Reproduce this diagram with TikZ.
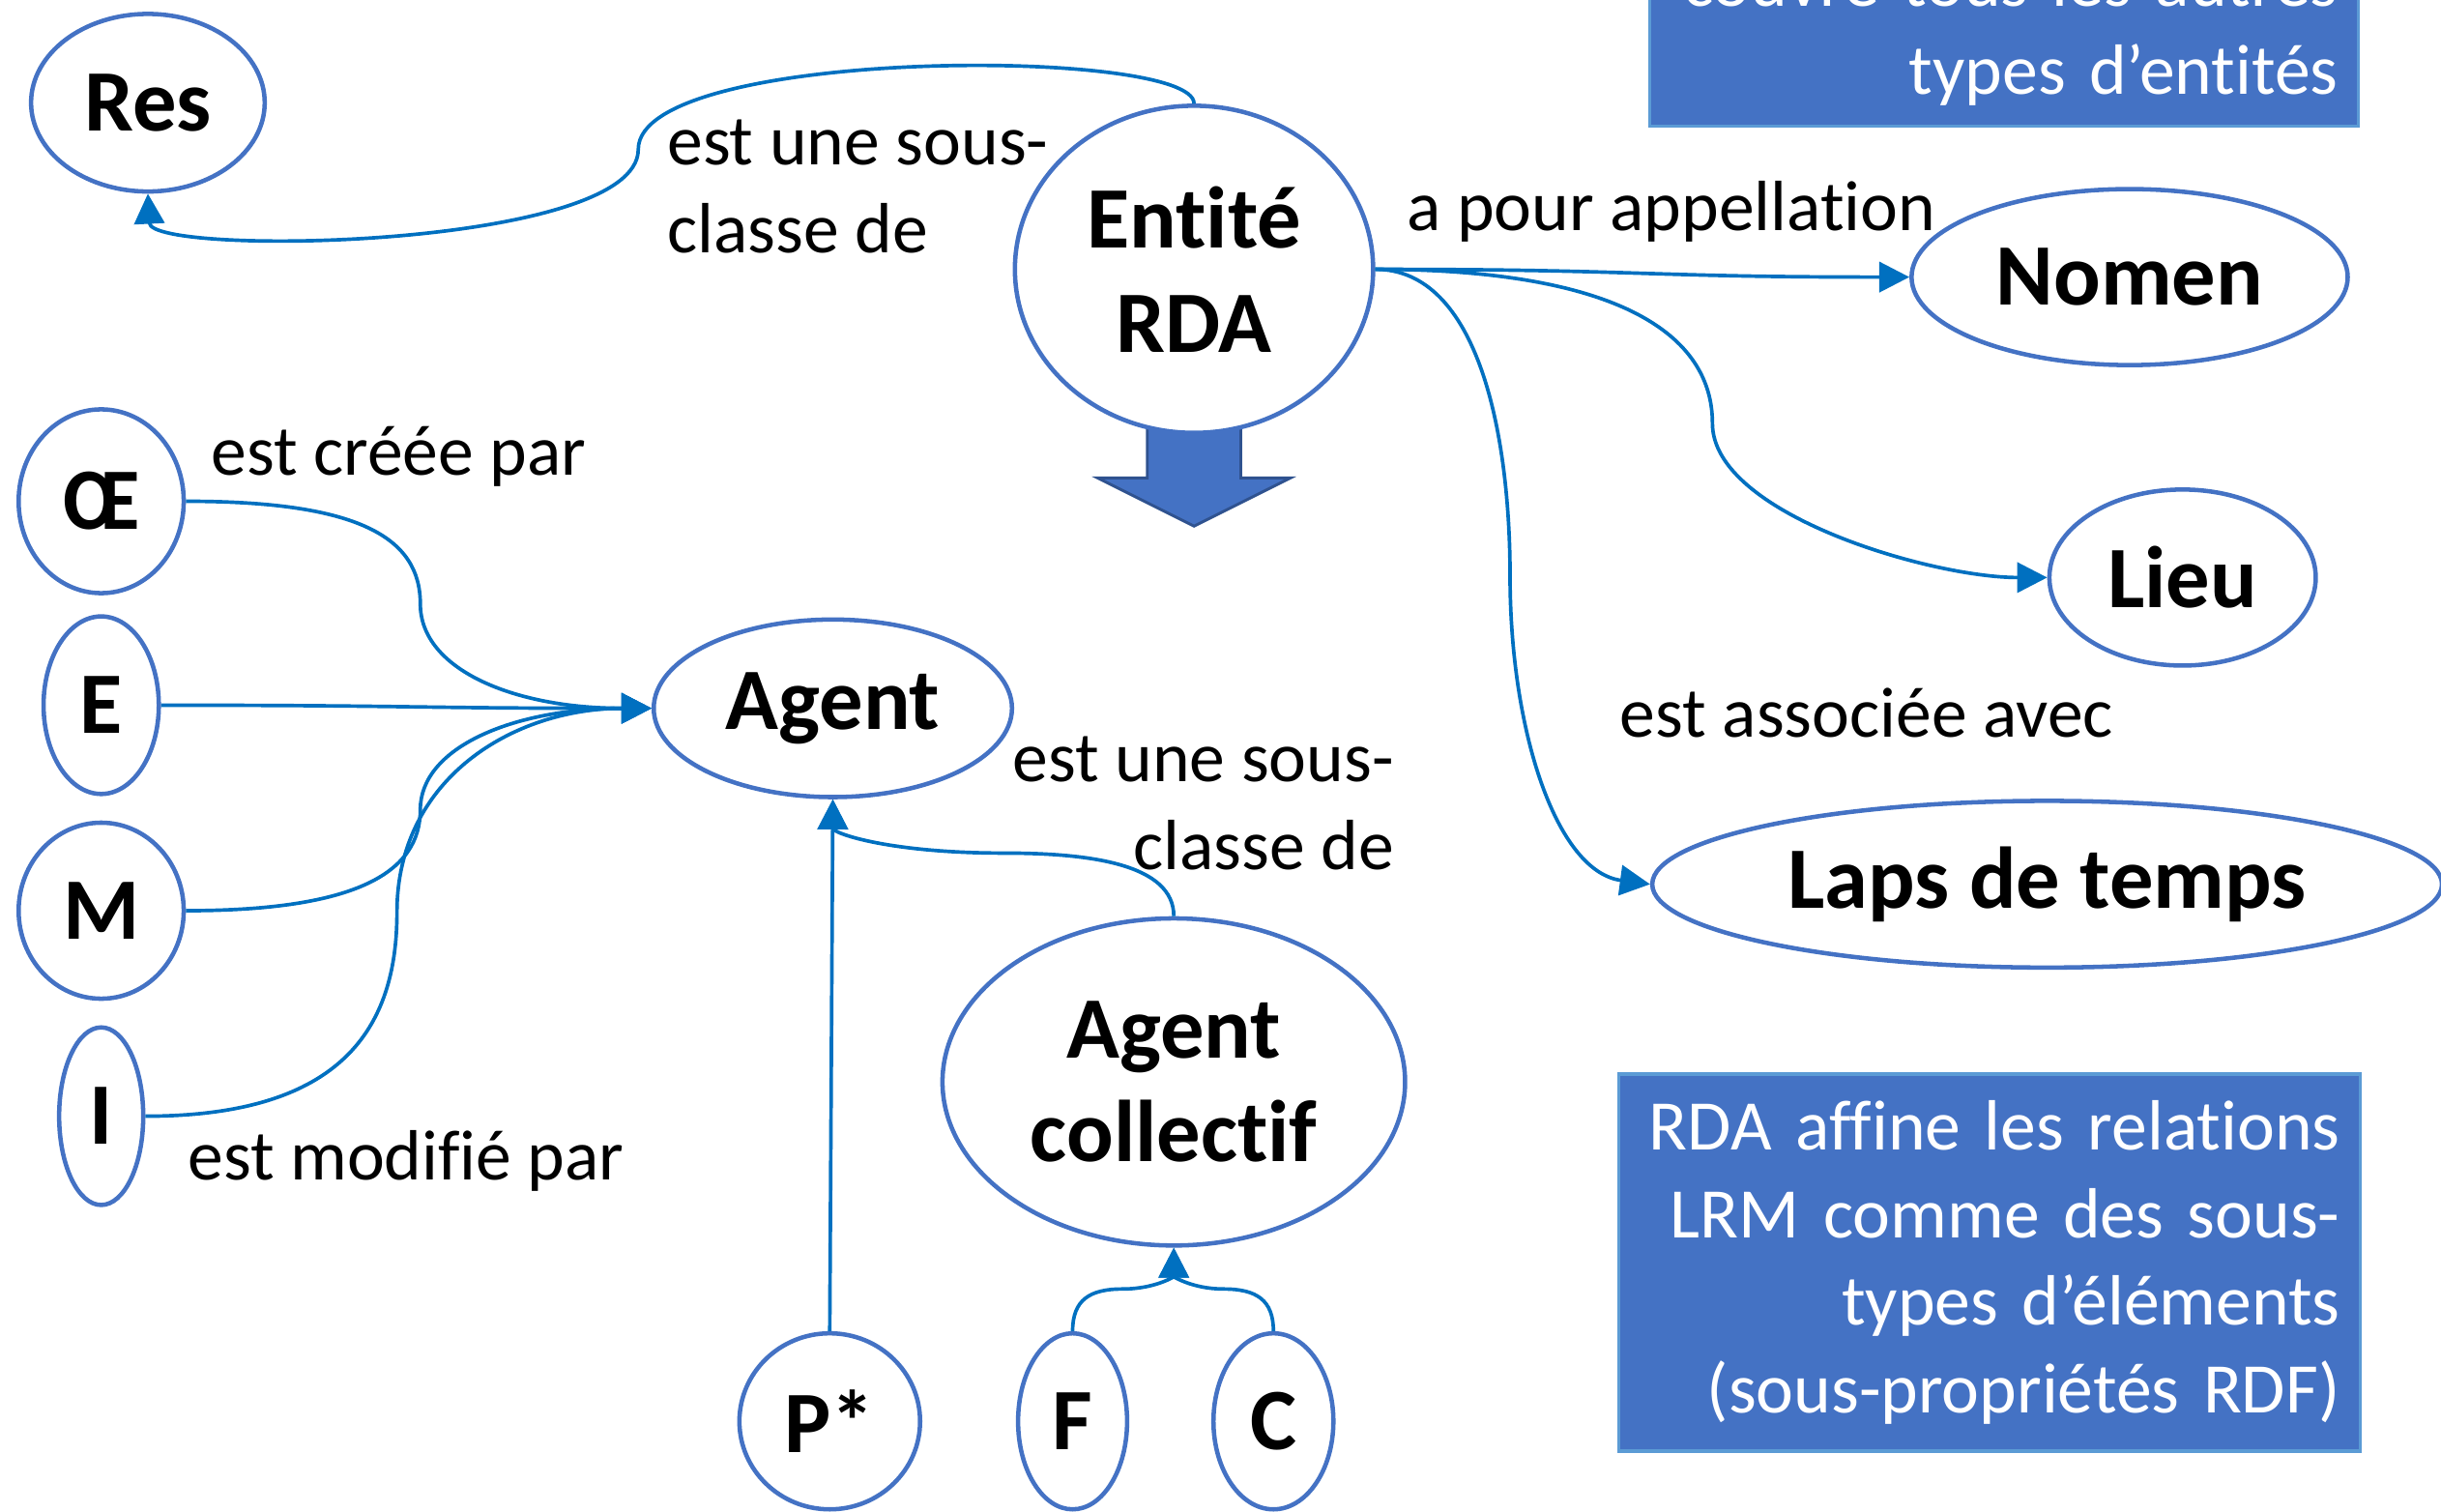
\documentclass[tikz,border=0pt]{standalone}
\usepackage{fontspec}
\setmainfont{Carlito}[RawFeature={-liga;-clig;-calt}]
\definecolor{rdaEdge}{HTML}{4472C4}
\definecolor{rdaLine}{HTML}{0070C0}
\definecolor{rdaBox}{HTML}{4472C4}
\definecolor{rdaBoxEdge}{HTML}{5B9BD5}
\definecolor{rdaArrowEdge}{HTML}{2F528F}
\usetikzlibrary{arrows.meta,shapes.geometric}

\begin{document}
\begin{tikzpicture}[x=0.01cm, y=-0.01cm,
  ent/.style={ellipse, draw=rdaEdge, line width=0.8pt, fill=white, inner sep=0pt, align=center, font=\bfseries\fontsize{16}{19}\selectfont},
  rel/.style={draw=rdaLine, line width=0.65pt, -{Triangle[length=5.5pt,width=5.5pt]}},
  lbl/.style={inner sep=0pt, font=\fontsize{13}{16}\selectfont},
  note/.style={fill=rdaBox, draw=rdaBoxEdge, line width=0.6pt, text=white, align=right, inner sep=0.13cm, font=\fontsize{13}{16}\selectfont}]
  \useasboundingbox (0,0) rectangle (1568,971);
  \fill[white] (0,0) rectangle (1568,971);

  \draw[fill=rdaBox, draw=rdaArrowEdge, line width=0.5pt] (737,265) -- (797,265) -- (797,307) -- (829,307) -- (767,338) -- (705,307) -- (737,307) -- cycle;

  \node[ent, minimum width=1.5cm, minimum height=1.14cm] (res) at (95,66) {Res};
  \node[ent, minimum width=2.3cm, minimum height=2.1cm] (ent) at (767,173) {Entité\\RDA};
  \node[ent, minimum width=2.8cm, minimum height=1.13cm] (nomen) at (1368,178) {Nomen};
  \node[ent, minimum width=1.71cm, minimum height=1.13cm] (lieu) at (1402,371) {Lieu};
  \node[ent, minimum width=5.07cm, minimum height=1.07cm] (laps) at (1315,568) {Laps de temps};
  \node[ent, minimum width=2.3cm, minimum height=1.14cm] (agent) at (535,455) {Agent};
  \node[ent, minimum width=1.06cm, minimum height=1.18cm] (oeuvre) at (65,322) {Œ};
  \node[ent, minimum width=0.74cm, minimum height=1.14cm] (expr) at (65,453) {E};
  \node[ent, minimum width=1.06cm, minimum height=1.13cm] (manif) at (65,585) {M};
  \node[ent, minimum width=0.54cm, minimum height=1.14cm] (item) at (65,717) {I};
  \node[ent, minimum width=2.97cm, minimum height=2.1cm] (collectif) at (754,695) {Agent\\collectif};
  \node[ent, minimum width=1.16cm, minimum height=1.13cm] (pers) at (533,913) {P*};
  \node[ent, minimum width=0.7cm, minimum height=1.13cm] (fam) at (689,913) {F};
  \node[ent, minimum width=0.77cm, minimum height=1.13cm] (coll) at (818,913) {C};

  \node[lbl, anchor=west, align=left] (subres) at (428,120) {est une sous-\\classe de};
  \node[lbl, anchor=west] (appel) at (903,136) {a pour appellation};
  \node[lbl, anchor=west] (assoc) at (1040,458) {est associée avec};
  \node[lbl, anchor=west] (creee) at (135,293) {est créée par};
  \node[lbl, anchor=west] (modif) at (120,746) {est modifié par};
  \node[lbl, anchor=east, align=right] (subagent) at (896,516) {est une sous-\\classe de};

  \node[note, anchor=south east, text width=4.29cm] (notetop) at (1516,82) {couvre tous les autres\\types d’entités};
  \node[note, text width=4.5cm, minimum height=2.42cm] (notebottom) at (1278,811) {RDA affine les relations\\LRM comme des sous-\\types d’éléments\\(sous-propriétés RDF)};

  \draw[rel] (ent.north) .. controls (767,30) and (410,30) .. (410,96) .. controls (410,160) and (97,165) .. (res.south);
  \draw[rel] (ent.east) .. controls (1055,173) and (1055,178) .. (nomen.west);
  \draw[rel] (ent.east) .. controls (1040,173) and (1100,215) .. (1100,272) .. controls (1100,330) and (1240,371) .. (lieu.west);
  \draw[rel] (ent.east) .. controls (950,173) and (970,280) .. (970,370) .. controls (970,470) and (1000,560) .. (laps.west);

  \draw[rel] (oeuvre.east) .. controls (230,322) and (270,345) .. (270,388) .. controls (270,430) and (330,455) .. (agent.west);
  \draw[rel] (expr.east) .. controls (265,453) and (265,455) .. (agent.west);
  \draw[rel] (manif.east) .. controls (230,585) and (270,560) .. (270,520) .. controls (270,480) and (330,455) .. (agent.west);
  \draw[rel] (item.east) .. controls (220,717) and (255,660) .. (255,586) .. controls (255,500) and (330,455) .. (agent.west);

  \draw[rel] (pers.north) -- (agent.south);
  \draw[rel] (collectif.north) .. controls (754,555) and (700,548) .. (645,548) .. controls (570,548) and (535,535) .. (agent.south);
  \draw[rel] (fam.north) .. controls (689,835) and (700,828) .. (721,828) .. controls (742,828) and (754,820) .. (collectif.south);
  \draw[rel] (coll.north) .. controls (818,835) and (807,828) .. (786,828) .. controls (766,828) and (754,820) .. (collectif.south);
\end{tikzpicture}
\end{document}
